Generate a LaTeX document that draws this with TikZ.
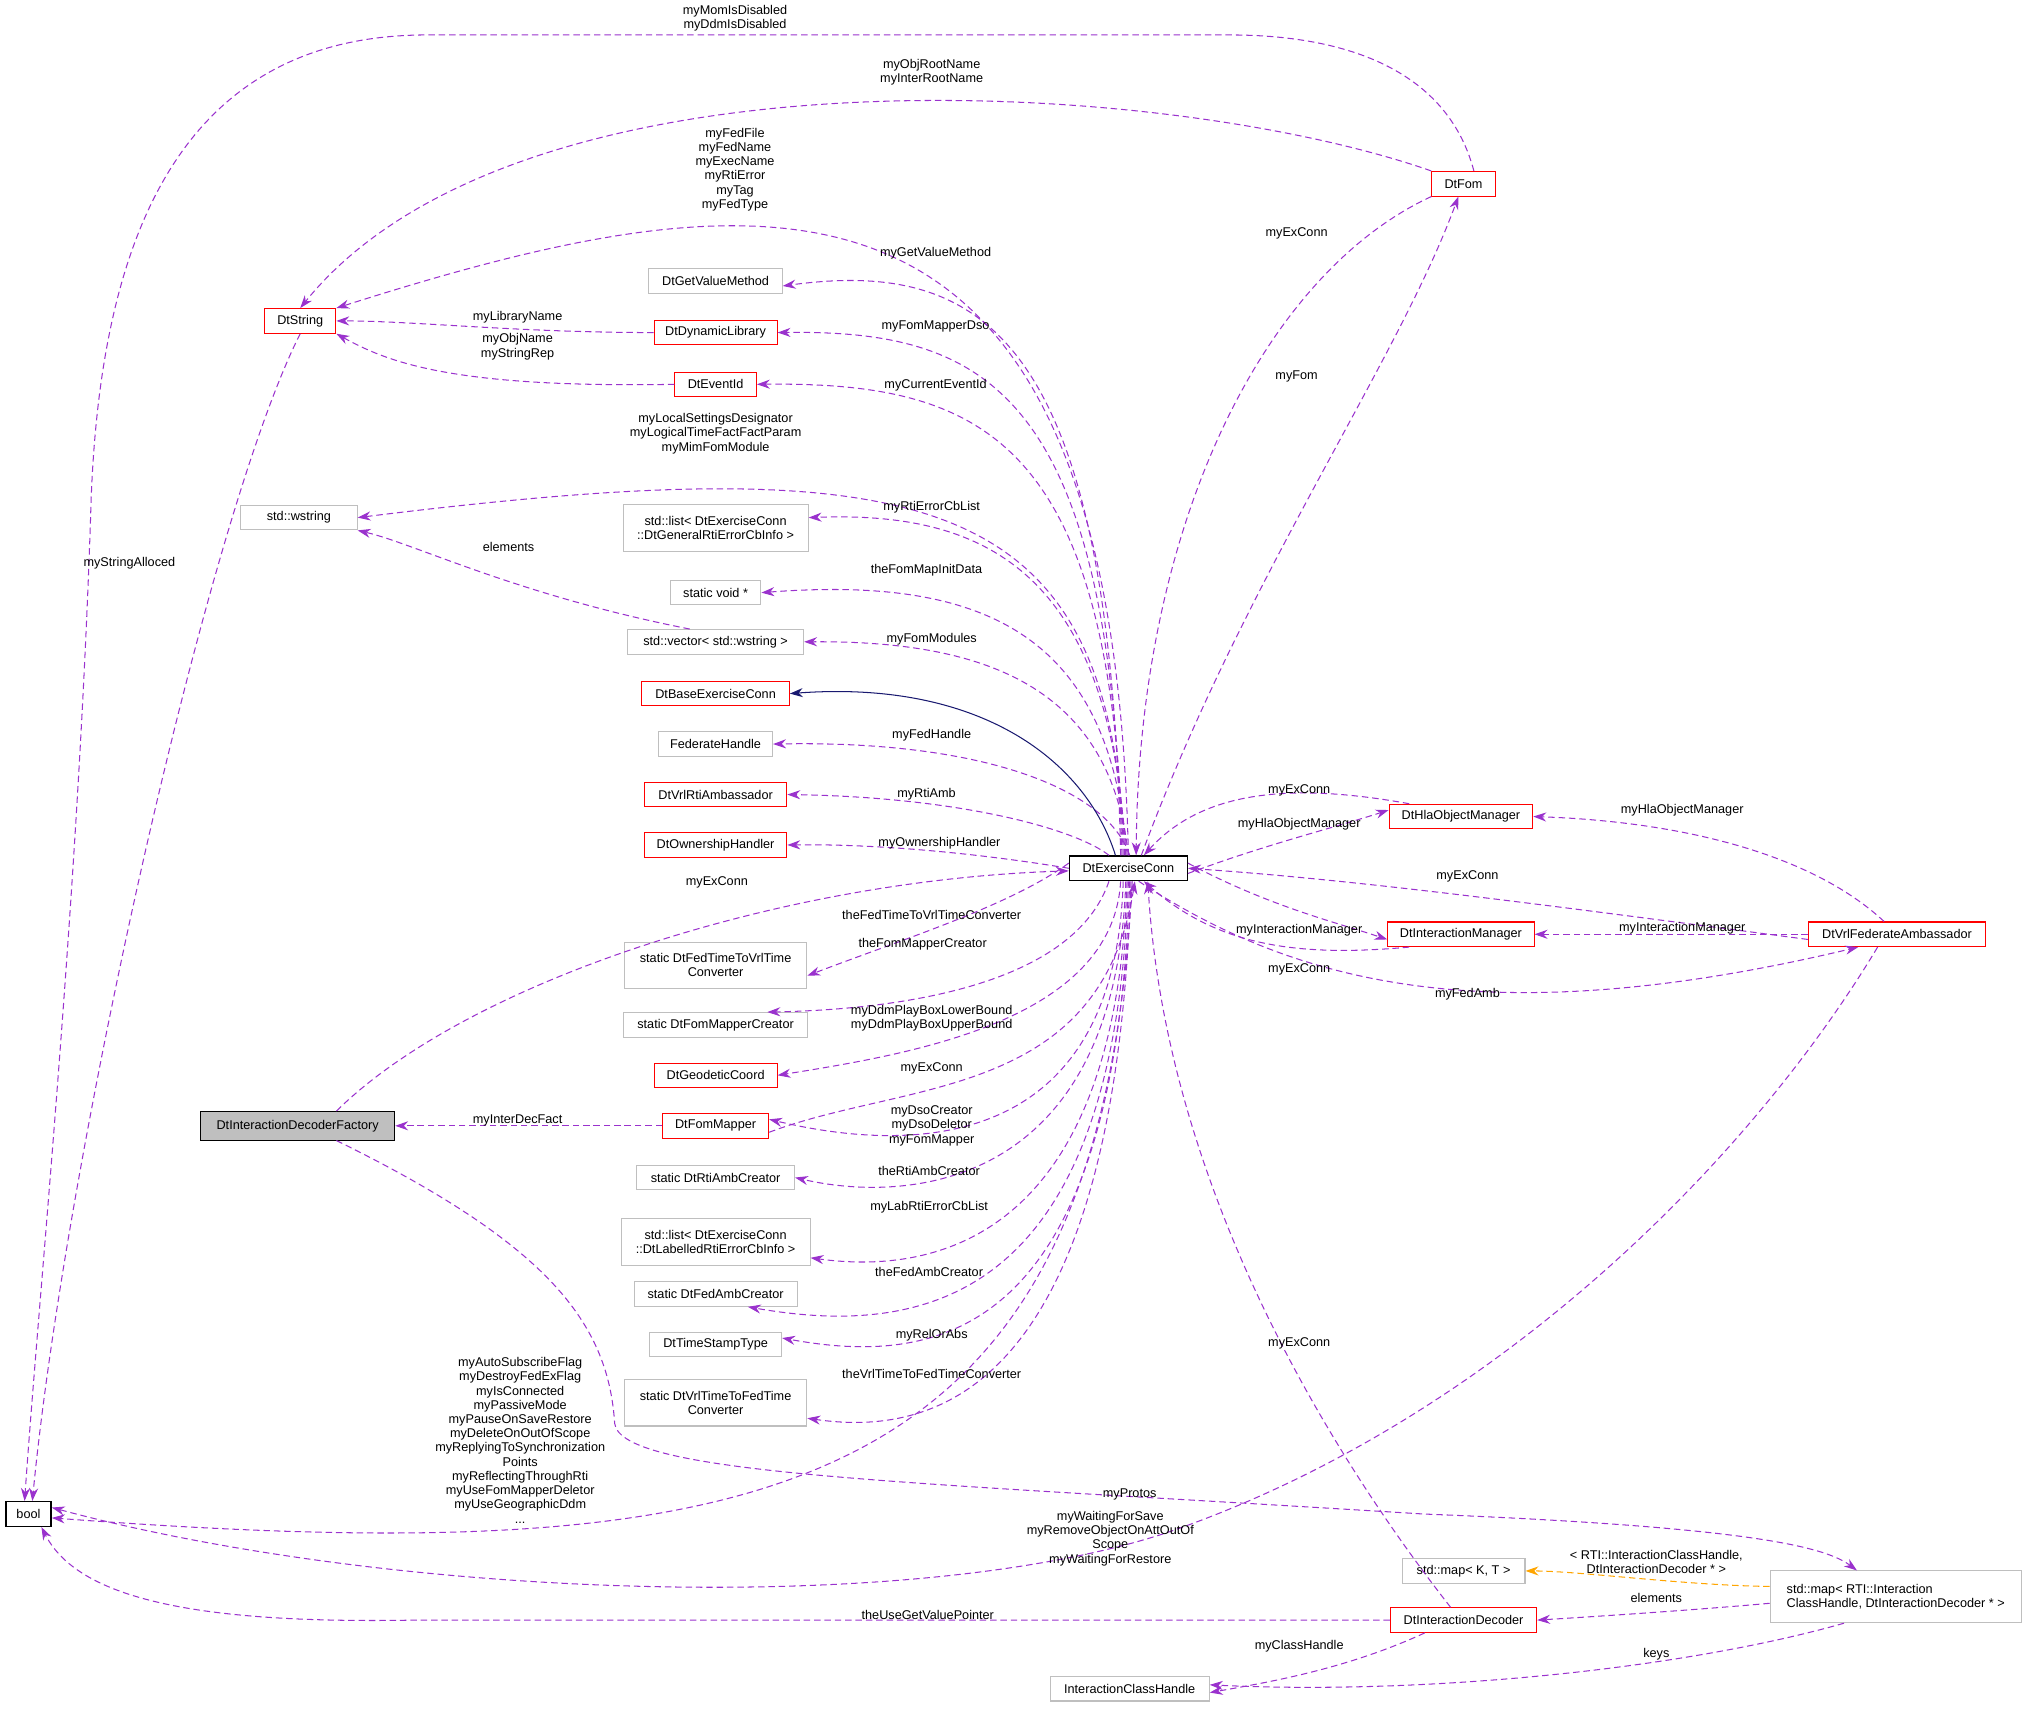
\documentclass[tikz,border=0pt]{standalone}
\usepackage{fontspec}
\setmainfont{Liberation Sans}
\usetikzlibrary{arrows.meta}
\definecolor{pu}{HTML}{9A32CD}
\definecolor{gb}{HTML}{BFBFBF}
\definecolor{nv}{HTML}{191970}
\definecolor{og}{HTML}{FFA500}
\begin{document}
\begin{tikzpicture}[x=1pt,y=-1pt,
 every node/.style={font=\fontsize{9.8}{11}\selectfont},
 box/.style={draw,line width=0.8pt,minimum height=19pt,inner sep=2pt,align=center},
 rbox/.style={box,draw=red},
 gbox/.style={box,draw=gb},
 kbox/.style={box,draw=black,line width=1.1pt},
 tall/.style={minimum height=36pt},
 e/.style={draw=pu,dashed,dash pattern=on 5pt off 3pt,line width=0.8pt,-{Stealth[length=10pt,width=7pt]}},
 lbl/.style={align=center,inner sep=0pt}]
\useasboundingbox (0,0) rectangle (1568,1320);
% nodes
\node[kbox,minimum width=35] (bool) at (22,1170) {bool};
\node[rbox,minimum width=55] (str) at (232,248) {DtString};
\node[gbox,minimum width=90] (ws) at (231,400) {std::wstring};
\node[box,fill=gb,minimum width=150,minimum height=22] (idf) at (230,870) {DtInteractionDecoderFactory};
\node[gbox,minimum width=103] (gvm) at (553,217) {DtGetValueMethod};
\node[rbox,minimum width=95] (dl) at (553,257) {DtDynamicLibrary};
\node[rbox,minimum width=63] (eid) at (553,297) {DtEventId};
\node[gbox,tall,minimum width=143] (lg) at (553,408) {std::list< DtExerciseConn\\::DtGeneralRtiErrorCbInfo >};
\node[gbox,minimum width=70] (sv) at (553,458) {static void *};
\node[gbox,minimum width=136] (vec) at (553,496) {std::vector< std::wstring >};
\node[rbox,minimum width=114] (base) at (553,536) {DtBaseExerciseConn};
\node[gbox,minimum width=88] (fh) at (553,575) {FederateHandle};
\node[rbox,minimum width=110] (rti) at (553,614) {DtVrlRtiAmbassador};
\node[rbox,minimum width=110] (own) at (553,653) {DtOwnershipHandler};
\node[kbox,minimum width=91] (ec) at (872,671) {DtExerciseConn};
\node[gbox,tall,minimum width=141] (fttv) at (553,746) {static DtFedTimeToVrlTime\\Converter};
\node[gbox,minimum width=142] (fmc) at (553,792) {static DtFomMapperCreator};
\node[rbox,minimum width=95] (geo) at (553,831) {DtGeodeticCoord};
\node[rbox,minimum width=82] (fm) at (553,870) {DtFomMapper};
\node[gbox,minimum width=122] (rac) at (553,910) {static DtRtiAmbCreator};
\node[gbox,tall,minimum width=146] (ll) at (553,960) {std::list< DtExerciseConn\\::DtLabelledRtiErrorCbInfo >};
\node[gbox,minimum width=126] (fac) at (553,1000) {static DtFedAmbCreator};
\node[gbox,minimum width=102] (tst) at (553,1039) {DtTimeStampType};
\node[gbox,tall,minimum width=141] (vtf) at (553,1084) {static DtVrlTimeToFedTime\\Converter};
\node[rbox,minimum width=49] (fom) at (1131,142) {DtFom};
\node[rbox,minimum width=111] (hla) at (1129,631) {DtHlaObjectManager};
\node[rbox,minimum width=113] (im) at (1129,722) {DtInteractionManager};
\node[rbox,minimum width=137] (fa) at (1466,722) {DtVrlFederateAmbassador};
\node[gbox,minimum width=95] (mkt) at (1131,1214) {std::map< K, T >};
\node[rbox,minimum width=113] (id) at (1131,1252) {DtInteractionDecoder};
\node[gbox,minimum width=123] (ich) at (873,1305) {InteractionClassHandle};
\node[gbox,minimum width=194,minimum height=40,align=left] (map) at (1465,1234) {std::map< RTI::Interaction\\ClassHandle, DtInteractionDecoder * >};
% upper members
\path[e] (ec.north) .. controls (860,100) and (600,130) .. (str.north east);
\path[e] ([xshift=-6]ec.north) .. controls (858,260) and (760,200) .. ([yshift=-4]gvm.east);
\path[e] ([xshift=-5]ec.north) .. controls (858,300) and (760,255) .. (dl.east);
\path[e] ([xshift=-4]ec.north) .. controls (858,340) and (760,295) .. (eid.east);
\path[e] ([xshift=-3]ec.north) .. controls (858,380) and (720,345) .. (ws.east);
\path[e] ([xshift=-2]ec.north) .. controls (858,440) and (760,395) .. ([yshift=8]lg.east);
\path[e] ([xshift=-1]ec.north) .. controls (858,490) and (760,445) .. (sv.east);
\path[e] ([xshift=0]ec.north) .. controls (858,530) and (760,495) .. (vec.east);
\path[e] ([xshift=1]ec.north) .. controls (856,610) and (760,572) .. (fh.east);
\path[e] ([xshift=-15]ec.north) .. controls (830,640) and (740,616) .. (rti.east);
\path[e] (ec.west) .. controls (760,660) and (680,652) .. (own.east);
\draw[nv,line width=0.8pt,-{Stealth[length=10pt,width=7pt]}] ([xshift=-10]ec.north) .. controls (840,590) and (760,525) .. (base.east);
% lower members
\path[e] ([yshift=4]ec.west) .. controls (780,700) and (700,725) .. ([yshift=-8]fttv.east);
\path[e] ([xshift=-15]ec.south) .. controls (830,760) and (700,780) .. ([xshift=40]fmc.north);
\path[e] ([xshift=-6]ec.south) .. controls (860,790) and (700,815) .. (geo.east);
\path[e] ([xshift=-4]ec.south) .. controls (862,880) and (720,895) .. ([yshift=5]fm.east);
\path[e] ([xshift=-2]ec.south) .. controls (862,920) and (700,930) .. (rac.east);
\path[e] ([xshift=-1]ec.south) .. controls (862,960) and (720,985) .. ([yshift=-12]ll.east);
\path[e] ([xshift=0]ec.south) .. controls (862,1000) and (720,1035) .. ([xshift=25]fac.south);
\path[e] ([xshift=1]ec.south) .. controls (862,1040) and (720,1055) .. ([yshift=5]tst.east);
\path[e] ([xshift=2]ec.south) .. controls (862,1080) and (720,1110) .. ([yshift=-12]vtf.east);
\path[e] ([xshift=3]ec.south) .. controls (850,1160) and (600,1215) .. ([yshift=-3]bool.east);
\path[e] ([yshift=-5]fm.east) .. controls (700,835) and (850,850) .. ([xshift=5]ec.south);
% bool / DtString
\path[e] ([xshift=-15]fa.south) .. controls (1350,900) and (1150,1100) .. (900,1185) .. controls (700,1250) and (300,1235) .. ([yshift=5]bool.east);
\path[e] (id.west) -- (320,1252) .. controls (150,1255) and (60,1235) .. ([xshift=10]bool.south);
\path[e] (str.south) .. controls (160,400) and (50,900) .. ([xshift=3]bool.north);
\path[e] ([xshift=8]fom.north) .. controls (1120,60) and (1050,27) .. (950,27) -- (330,27) .. controls (130,27) and (75,200) .. (70,400) .. controls (60,700) and (30,1000) .. ([xshift=-3]bool.north);
\path[e] (fom.north west) .. controls (900,60) and (400,30) .. (str.north);
\path[e] (dl.west) .. controls (400,257) and (320,248) .. (str.east);
\path[e] (eid.west) .. controls (350,300) and (300,280) .. (str.south east);
\path[e] ([xshift=-20]vec.north) .. controls (400,460) and (320,420) .. (ws.south east);
\path[e] (fm.west) -- (idf.east);
% right side
\path[e] (fom.south west) .. controls (980,210) and (880,400) .. ([xshift=6]ec.north);
\path[e] ([xshift=10]ec.north) .. controls (960,450) and (1080,280) .. ([xshift=-4]fom.south);
\path[e] ([xshift=-40]hla.north) .. controls (1000,605) and (930,610) .. ([xshift=12]ec.north);
\path[e] ([yshift=-4]ec.east) .. controls (980,652) and (1030,640) .. ([yshift=5]hla.west);
\path[e] ([yshift=4]ec.east) .. controls (980,700) and (1030,712) .. ([yshift=-4]im.west);
\path[e] ([xshift=-40]im.south) .. controls (1000,740) and (940,730) .. ([xshift=12]ec.south);
\path[e] ([yshift=-4]fa.west) .. controls (1200,700) and (1050,680) .. (ec.east);
\path[e] ([xshift=8]ec.south) .. controls (1000,760) and (1150,800) .. ([xshift=-30]fa.south);
\path[e] ([xshift=-10]fa.north) .. controls (1400,660) and (1300,635) .. (hla.east);
\path[e] (fa.west) -- (im.east);
\path[e] ([xshift=-10]id.north) .. controls (1010,1100) and (900,900) .. ([xshift=15]ec.south);
\path[e] ([xshift=30]idf.north) .. controls (360,760) and (600,680) .. ([yshift=-2]ec.west);
\path[e] ([xshift=30]idf.south) .. controls (420,960) and (470,1020) .. (475,1100) .. controls (480,1140) and (700,1145) .. (1100,1170) .. controls (1350,1180) and (1410,1195) .. ([xshift=-30]map.north);
\draw[og,dashed,dash pattern=on 5pt off 3pt,line width=0.8pt,-{Stealth[length=10pt,width=7pt]}] ([yshift=8]map.west) .. controls (1300,1225) and (1220,1214) .. (mkt.east);
\path[e] ([yshift=-5]map.west) .. controls (1300,1245) and (1220,1250) .. (id.east);
\path[e] ([xshift=-40]map.south) .. controls (1300,1290) and (1100,1310) .. ([yshift=3]ich.east);
\path[e] ([xshift=-30]id.south) .. controls (1040,1290) and (980,1300) .. ([yshift=-3]ich.east);
% labels
\node[lbl] at (568,14) {myMomIsDisabled\\myDdmIsDisabled};
\node[lbl] at (720,56) {myObjRootName\\myInterRootName};
\node[lbl] at (568,131) {myFedFile\\myFedName\\myExecName\\myRtiError\\myTag\\myFedType};
\node[lbl] at (723,196) {myGetValueMethod};
\node[lbl] at (400,245) {myLibraryName};
\node[lbl] at (723,252) {myFomMapperDso};
\node[lbl] at (400,268) {myObjName\\myStringRep};
\node[lbl] at (723,298) {myCurrentEventId};
\node[lbl] at (553,335) {myLocalSettingsDesignator\\myLogicalTimeFactFactParam\\myMimFomModule};
\node[lbl] at (720,392) {myRtiErrorCbList};
\node[lbl] at (393,423) {elements};
\node[lbl] at (100,435) {myStringAlloced};
\node[lbl] at (716,441) {theFomMapInitData};
\node[lbl] at (720,494) {myFomModules};
\node[lbl] at (720,568) {myFedHandle};
\node[lbl] at (716,614) {myRtiAmb};
\node[lbl] at (726,652) {myOwnershipHandler};
\node[lbl] at (554,682) {myExConn};
\node[lbl] at (720,707) {theFedTimeToVrlTimeConverter};
\node[lbl] at (713,730) {theFomMapperCreator};
\node[lbl] at (720,787) {myDdmPlayBoxLowerBound\\myDdmPlayBoxUpperBound};
\node[lbl] at (720,826) {myExConn};
\node[lbl] at (400,866) {myInterDecFact};
\node[lbl] at (720,870) {myDsoCreator\\myDsoDeletor\\myFomMapper};
\node[lbl] at (718,905) {theRtiAmbCreator};
\node[lbl] at (718,933) {myLabRtiErrorCbList};
\node[lbl] at (718,983) {theFedAmbCreator};
\node[lbl] at (720,1032) {myRelOrAbs};
\node[lbl] at (720,1062) {theVrlTimeToFedTimeConverter};
\node[lbl] at (402,1113) {myAutoSubscribeFlag\\myDestroyFedExFlag\\myIsConnected\\myPassiveMode\\myPauseOnSaveRestore\\myDeleteOnOutOfScope\\myReplyingToSynchronization\\Points\\myReflectingThroughRti\\myUseFomMapperDeletor\\myUseGeographicDdm\\...};
\node[lbl] at (858,1189) {myWaitingForSave\\myRemoveObjectOnAttOutOf\\Scope\\myWaitingForRestore};
\node[lbl] at (717,1248) {theUseGetValuePointer};
\node[lbl] at (1002,180) {myExConn};
\node[lbl] at (1002,291) {myFom};
\node[lbl] at (1004,611) {myExConn};
\node[lbl] at (1004,637) {myHlaObjectManager};
\node[lbl] at (1004,719) {myInteractionManager};
\node[lbl] at (1004,749) {myExConn};
\node[lbl] at (1134,677) {myExConn};
\node[lbl] at (1134,768) {myFedAmb};
\node[lbl] at (1300,626) {myHlaObjectManager};
\node[lbl] at (1300,717) {myInteractionManager};
\node[lbl] at (1004,1038) {myExConn};
\node[lbl] at (873,1155) {myProtos};
\node[lbl] at (1280,1207) {< RTI::InteractionClassHandle,\\DtInteractionDecoder * >};
\node[lbl] at (1280,1235) {elements};
\node[lbl] at (1004,1272) {myClassHandle};
\node[lbl] at (1280,1278) {keys};
\end{tikzpicture}
\end{document}
